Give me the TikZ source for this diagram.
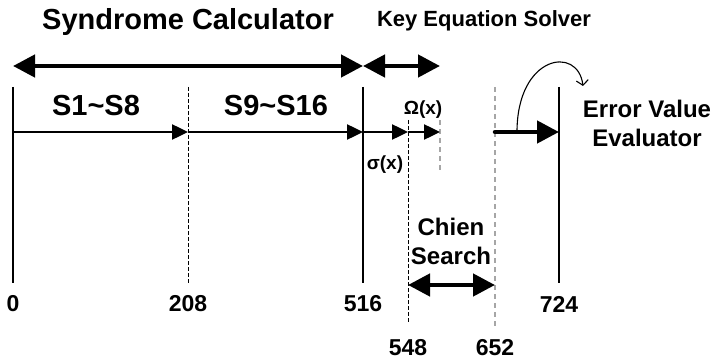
\documentclass[tikz,border=0pt]{standalone}
\usepackage{fontspec}
\setmainfont{Liberation Sans}
\usetikzlibrary{arrows.meta}

\begin{document}
\begin{tikzpicture}[x=1pt,y=-1pt,
        big/.style={font=\bfseries\fontsize{29}{32}\selectfont},
        mid/.style={font=\bfseries\fontsize{22}{26}\selectfont},
        num/.style={font=\bfseries\fontsize{23}{26}\selectfont},
        two/.style={font=\bfseries\fontsize{24}{29}\selectfont,align=center},
        small/.style={font=\bfseries\fontsize{19}{22}\selectfont},
        tick/.style={line width=1.1pt},
        dtick/.style={line width=1pt,dash pattern=on 4pt off 2pt},
        gtick/.style={line width=1.1pt,gray!70,dash pattern=on 5pt off 4pt},
        flow/.style={line width=2.5pt,-{Triangle[length=16pt,width=15pt]}},
        span/.style={line width=4.5pt,{Triangle[length=22pt,width=22pt]}-{Triangle[length=22pt,width=22pt]}}]
        \useasboundingbox (0,0) rectangle (713,361);
        % titles
        \node[big](sc) at (188,22) {Syndrome Calculator};
        \node[mid](kes) at (484,21) {Key Equation Solver};
        \coordinate(h0) at (13,66);
        \coordinate(h1) at (363,66);
        \coordinate(h2) at (440,66);
        \draw[span](h0)--(h1);
        \draw[span](h1)--(h2);
        % time lines
        \coordinate(a0) at (13,87);   \coordinate(b0) at (13,283);
        \coordinate(a1) at (188,87);  \coordinate(b1) at (188,283);
        \coordinate(a2) at (363,87);  \coordinate(b2) at (363,283);
        \coordinate(a3) at (408,120); \coordinate(b3) at (408,323);
        \coordinate(a4) at (440,120); \coordinate(b4) at (440,170);
        \coordinate(a5) at (495,87);  \coordinate(b5) at (495,328);
        \coordinate(a6) at (559,87);  \coordinate(b6) at (559,283);
        \draw[tick](a0)--(b0);
        \draw[dtick](a1)--(b1);
        \draw[tick](a2)--(b2);
        \draw[dtick](a3)--(b3);
        \draw[gtick](a4)--(b4);
        \draw[gtick](a5)--(b5);
        \draw[tick](a6)--(b6);
        % data flow
        \coordinate(f0) at (13,132);
        \coordinate(f1) at (188,132);
        \coordinate(f2) at (363,132);
        \coordinate(f3) at (408,132);
        \coordinate(f4) at (440,132);
        \coordinate(f5) at (495,132);
        \coordinate(f6) at (559,132);
        \draw[flow](f0)--(f1);
        \draw[flow](f1)--(f2);
        \draw[flow](f2)--(f3);
        \draw[flow](f3)--(f4);
        \draw[line width=4.5pt,line cap=round,-{Triangle[length=22pt,width=22pt]}](f5)--(f6);
        \node[big](s1) at (96,106) {S1\string~S8};
        \node[big](s9) at (276,106) {S9\string~S16};
        \node[small](omega) at (423,110) {Ω(x)};
        \node[small](sigma) at (385,165) {σ(x)};
        % error value evaluator
        \coordinate(c0) at (517,132);
        \coordinate(c1) at (583,86);
        \draw[line width=1.1pt,-{Straight Barb[length=5pt,width=12pt]}](c0) .. controls (517,55) and (578,45) .. (c1);
        \node[two](eve) at (647,123) {Error Value\\Evaluator};
        % chien search
        \coordinate(k0) at (408,285);
        \coordinate(k1) at (495,285);
        \draw[span](k0)--(k1);
        \node[two](chien) at (451,241) {Chien\\Search};
        % cycle counts
        \node[num](t0) at (13,304) {0};
        \node[num](t208) at (188,304) {208};
        \node[num](t516) at (363,304) {516};
        \node[num](t724) at (559,304) {724};
        \node[num](t548) at (408,348) {548};
        \node[num](t652) at (495,348) {652};
\end{tikzpicture}
\end{document}
